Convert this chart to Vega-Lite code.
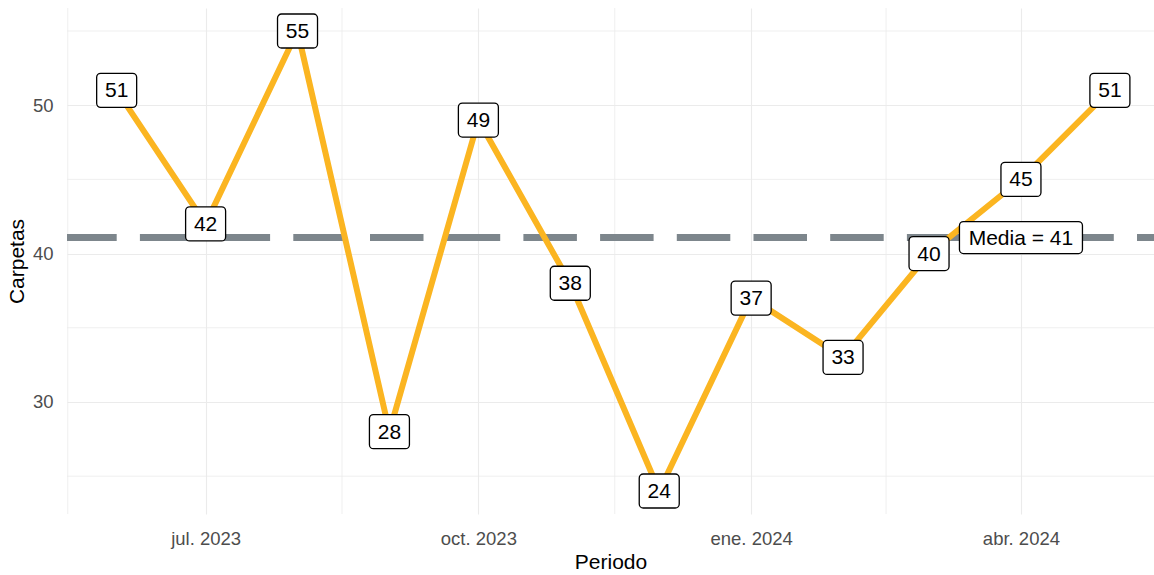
{
  "$schema": "https://vega.github.io/schema/vega-lite/v6.json",
  "width": 1087,
  "height": 506,
  "autosize": {"type": "none"},
  "padding": {"left": 67, "top": 8, "right": 0, "bottom": 61},
  "background": "white",
  "config": {"view": {"stroke": null}, "font": "Liberation Sans"},
  "datasets": {
    "serie": [
      {"fecha": "2023-06-01", "carpetas": 51},
      {"fecha": "2023-07-01", "carpetas": 42},
      {"fecha": "2023-08-01", "carpetas": 55},
      {"fecha": "2023-09-01", "carpetas": 28},
      {"fecha": "2023-10-01", "carpetas": 49},
      {"fecha": "2023-11-01", "carpetas": 38},
      {"fecha": "2023-12-01", "carpetas": 24},
      {"fecha": "2024-01-01", "carpetas": 37},
      {"fecha": "2024-02-01", "carpetas": 33},
      {"fecha": "2024-03-01", "carpetas": 40},
      {"fecha": "2024-04-01", "carpetas": 45},
      {"fecha": "2024-05-01", "carpetas": 51}
    ],
    "gridx": [
      {"fecha": "2023-05-15T12:00:00Z"},
      {"fecha": "2023-08-16T00:00:00Z"},
      {"fecha": "2023-11-16T00:00:00Z"},
      {"fecha": "2024-02-15T12:00:00Z"}
    ],
    "gridy": [
      {"carpetas": 25},
      {"carpetas": 35},
      {"carpetas": 45},
      {"carpetas": 55}
    ],
    "media": [
      {"fecha": "2024-04-01", "carpetas": 41.08, "etiqueta": "Media = 41"}
    ]
  },
  "layer": [
    {
      "data": {"name": "gridx"},
      "mark": {"type": "rule", "color": "#EBEBEB", "strokeWidth": 0.8},
      "encoding": {
        "x": {
          "field": "fecha", "type": "temporal",
          "scale": {"type": "utc", "domain": [{"year": 2023, "month": 5, "date": 15, "hours": 6, "utc": true}, {"year": 2024, "month": 5, "date": 15, "hours": 21, "utc": true}]},
          "axis": {
            "title": "Periodo",
            "values": [
              {"year": 2023, "month": 7, "date": 1, "utc": true},
              {"year": 2023, "month": 10, "date": 1, "utc": true},
              {"year": 2024, "month": 1, "date": 1, "utc": true},
              {"year": 2024, "month": 4, "date": 1, "utc": true}
            ],
            "labelExpr": "['ene.','feb.','mar.','abr.','may.','jun.','jul.','ago.','sep.','oct.','nov.','dic.'][utcmonth(datum.value)] + ' ' + utcyear(datum.value)",
            "grid": true, "gridColor": "#EBEBEB", "gridWidth": 1.1,
            "ticks": false, "tickSize": 0, "domain": false,
            "labelFont": "Liberation Sans", "labelFontSize": 18.5, "labelColor": "#4D4D4D", "labelPadding": 15,
            "labelFlush": false, "labelOverlap": false,
            "titleFont": "Liberation Sans", "titleFontSize": 21, "titleColor": "black", "titleFontWeight": "normal",
            "titleY": 54, "titleBaseline": "alphabetic"
          }
        }
      }
    },
    {
      "data": {"name": "gridy"},
      "mark": {"type": "rule", "color": "#EBEBEB", "strokeWidth": 0.8},
      "encoding": {
        "y": {
          "field": "carpetas", "type": "quantitative",
          "scale": {"domain": [22.45, 56.55], "nice": false, "zero": false},
          "axis": {
            "title": "Carpetas",
            "values": [30, 40, 50],
            "grid": true, "gridColor": "#EBEBEB", "gridWidth": 1.1,
            "ticks": false, "tickSize": 0, "domain": false,
            "labelFont": "Liberation Sans", "labelFontSize": 18.5, "labelColor": "#4D4D4D", "labelPadding": 14,
            "titleFont": "Liberation Sans", "titleFontSize": 21, "titleColor": "black", "titleFontWeight": "normal",
            "titleAngle": -90, "titleX": -44, "titleY": 253, "titleBaseline": "alphabetic", "titleAlign": "center"
          }
        }
      }
    },
    {
      "data": {"name": "media"},
      "mark": {"type": "rule", "color": "#7D868C", "strokeWidth": 7, "strokeDash": [53.5, 23.2], "strokeDashOffset": 36.5},
      "encoding": {
        "y": {"field": "carpetas", "type": "quantitative", "scale": {"domain": [22.45, 56.55], "nice": false, "zero": false}}
      }
    },
    {
      "data": {"name": "serie"},
      "mark": {"type": "line", "color": "#FBB521", "strokeWidth": 6, "strokeJoin": "round", "strokeCap": "butt"},
      "encoding": {
        "x": {"field": "fecha", "type": "temporal", "scale": {"type": "utc", "domain": [{"year": 2023, "month": 5, "date": 15, "hours": 6, "utc": true}, {"year": 2024, "month": 5, "date": 15, "hours": 21, "utc": true}]}},
        "y": {"field": "carpetas", "type": "quantitative", "scale": {"domain": [22.45, 56.55], "nice": false, "zero": false}}
      }
    },
    {
      "data": {"name": "serie"},
      "mark": {"type": "rect", "fill": "white", "stroke": "black", "strokeWidth": 1.3, "cornerRadius": 4, "xOffset": -20, "x2Offset": 20, "yOffset": -17, "y2Offset": 17},
      "encoding": {
        "x": {"field": "fecha", "type": "temporal", "scale": {"type": "utc", "domain": [{"year": 2023, "month": 5, "date": 15, "hours": 6, "utc": true}, {"year": 2024, "month": 5, "date": 15, "hours": 21, "utc": true}]}},
        "x2": {"field": "fecha"},
        "y": {"field": "carpetas", "type": "quantitative", "scale": {"domain": [22.45, 56.55], "nice": false, "zero": false}},
        "y2": {"field": "carpetas"}
      }
    },
    {
      "data": {"name": "serie"},
      "mark": {"type": "text", "font": "Liberation Sans", "fontSize": 21, "color": "black", "align": "center", "baseline": "middle", "dy": 1},
      "encoding": {
        "x": {"field": "fecha", "type": "temporal", "scale": {"type": "utc", "domain": [{"year": 2023, "month": 5, "date": 15, "hours": 6, "utc": true}, {"year": 2024, "month": 5, "date": 15, "hours": 21, "utc": true}]}},
        "y": {"field": "carpetas", "type": "quantitative", "scale": {"domain": [22.45, 56.55], "nice": false, "zero": false}},
        "text": {"field": "carpetas", "type": "quantitative"}
      }
    },
    {
      "data": {"name": "media"},
      "mark": {"type": "rect", "fill": "white", "stroke": "black", "strokeWidth": 1.3, "cornerRadius": 4, "xOffset": -61.5, "x2Offset": 61.5, "yOffset": -16, "y2Offset": 16},
      "encoding": {
        "x": {"field": "fecha", "type": "temporal", "scale": {"type": "utc", "domain": [{"year": 2023, "month": 5, "date": 15, "hours": 6, "utc": true}, {"year": 2024, "month": 5, "date": 15, "hours": 21, "utc": true}]}},
        "x2": {"field": "fecha"},
        "y": {"field": "carpetas", "type": "quantitative", "scale": {"domain": [22.45, 56.55], "nice": false, "zero": false}},
        "y2": {"field": "carpetas"}
      }
    },
    {
      "data": {"name": "media"},
      "mark": {"type": "text", "font": "Liberation Sans", "fontSize": 21, "color": "black", "align": "center", "baseline": "middle", "dy": 1},
      "encoding": {
        "x": {"field": "fecha", "type": "temporal", "scale": {"type": "utc", "domain": [{"year": 2023, "month": 5, "date": 15, "hours": 6, "utc": true}, {"year": 2024, "month": 5, "date": 15, "hours": 21, "utc": true}]}},
        "y": {"field": "carpetas", "type": "quantitative", "scale": {"domain": [22.45, 56.55], "nice": false, "zero": false}},
        "text": {"field": "etiqueta", "type": "nominal"}
      }
    }
  ]
}
